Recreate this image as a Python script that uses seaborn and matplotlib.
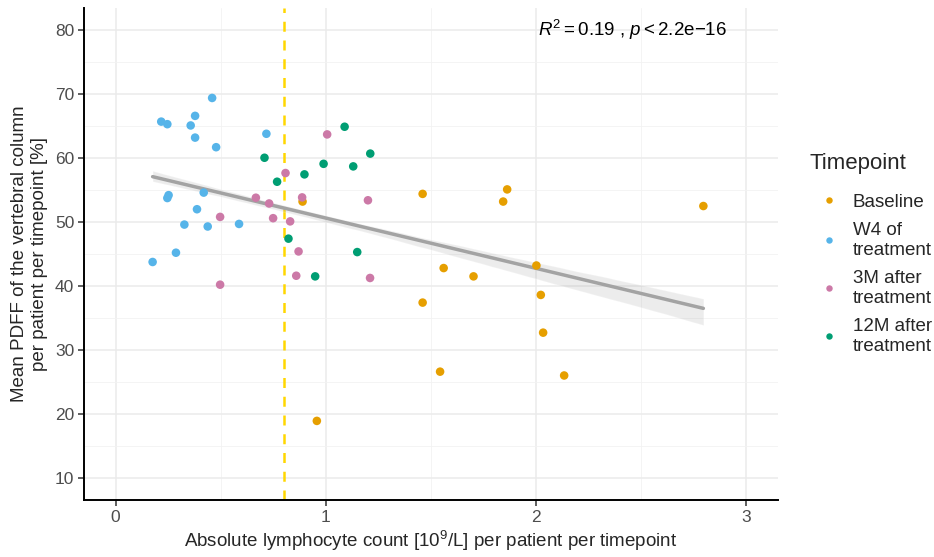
import pandas as pd
import numpy as np
import matplotlib
matplotlib.use("Agg")
import matplotlib.pyplot as plt
import seaborn as sns
from matplotlib.ticker import MultipleLocator

# values
baseline_x = [0.889, 1.460, 1.460, 1.862, 1.843, 1.560, 1.702, 2.001, 2.022, 2.033, 1.543, 2.133, 2.795, 0.957]
baseline_y = [53.2, 54.4, 37.4, 55.1, 53.2, 42.8, 41.5, 43.2, 38.6, 32.7, 26.6, 26.0, 52.5, 18.9]

w4_x = [0.459, 0.217, 0.246, 0.378, 0.357, 0.378, 0.478, 0.717, 0.252, 0.246, 0.419,
        0.387, 0.327, 0.438, 0.587, 0.287, 0.176]
w4_y = [69.4, 65.7, 65.3, 66.6, 65.1, 63.2, 61.7, 63.8, 54.2, 53.75, 54.6,
        52.0, 49.6, 49.3, 49.7, 45.2, 43.75]

m3_x = [1.006, 0.808, 0.667, 0.730, 0.887, 0.497, 0.749, 0.830, 0.870, 0.859, 0.497, 1.200, 1.210]
m3_y = [63.7, 57.66, 53.8, 52.9, 53.85, 50.8, 50.6, 50.1, 45.4, 41.6, 40.2, 53.4, 41.25]

m12_x = [0.708, 0.989, 0.898, 0.768, 0.822, 0.949, 1.089, 1.211, 1.130, 1.149]
m12_y = [60.05, 59.1, 57.45, 56.3, 47.4, 41.5, 64.9, 60.7, 58.7, 45.3]

groups = ["Baseline", "W4 of\ntreatment", "3M after\ntreatment", "12M after\ntreatment"]
colors = ["#E69F00", "#56B4E9", "#CC79A7", "#009E73"]
cutoff = 0.8
label_text = r"$R^2 = 0.19$ , $p < 2.2$e$-$16"

df = pd.concat([
    pd.DataFrame({"alc": baseline_x, "pdff": baseline_y, "Timepoint": groups[0]}),
    pd.DataFrame({"alc": w4_x, "pdff": w4_y, "Timepoint": groups[1]}),
    pd.DataFrame({"alc": m3_x, "pdff": m3_y, "Timepoint": groups[2]}),
    pd.DataFrame({"alc": m12_x, "pdff": m12_y, "Timepoint": groups[3]}),
], ignore_index=True)

sns.set_style("white")
plt.rcParams["font.family"] = ["Liberation Sans", "DejaVu Sans"]
plt.rcParams["mathtext.fontset"] = "custom"
plt.rcParams["mathtext.rm"] = "Liberation Sans"
plt.rcParams["mathtext.it"] = "Liberation Sans:italic"

fig = plt.figure(figsize=(9.34, 5.57), dpi=100)
ax = fig.add_axes([0.09, 0.102, 0.743, 0.884])

# grid
ax.xaxis.set_minor_locator(MultipleLocator(0.5))
ax.yaxis.set_minor_locator(MultipleLocator(5))
ax.grid(which="major", color="#EBEBEB", lw=1.1, zorder=0)
ax.grid(which="minor", color="#F2F2F2", lw=0.6, zorder=0)
ax.set_axisbelow(True)

ax.axvline(cutoff, color="#FFD700", lw=1.8, ls=(0, (4, 3.5)), zorder=1)

# narrow band as in the original (fit there used many more measurements)
sns.regplot(data=df, x="alc", y="pdff", scatter=False, ax=ax, color="#A3A3A3",
            ci=30, seed=1, line_kws={"lw": 2.5, "zorder": 2})
for coll in ax.collections:
    coll.set_alpha(0.2)

sns.scatterplot(data=df, x="alc", y="pdff", hue="Timepoint", hue_order=groups,
                palette=colors, s=38, linewidth=0, ax=ax, zorder=3)

ax.text(2.46, 80, label_text, ha="center", va="center", fontsize=13.5, color="black")

ax.set_xlim(-0.15, 3.15)
ax.set_ylim(6.5, 83.5)
ax.set_xticks([0, 1, 2, 3])
ax.set_yticks(range(10, 81, 10))
ax.tick_params(axis="both", which="major", length=4, width=1.1, color="#333333",
               labelsize=12.5, labelcolor="#4D4D4D", bottom=True, left=True, pad=3)
ax.tick_params(which="minor", length=0)

for side in ["top", "right"]:
    ax.spines[side].set_visible(False)
for side in ["left", "bottom"]:
    ax.spines[side].set_color("black")
    ax.spines[side].set_linewidth(1.4)

ax.set_xlabel(r"Absolute lymphocyte count [10$^9$/L] per patient per timepoint", fontsize=13.5, labelpad=3)
ax.set_ylabel("Mean PDFF of the vertebral column\nper patient per timepoint [%]", fontsize=13.5, labelpad=5)

handles, labels = ax.get_legend_handles_labels()
leg = ax.legend(handles, labels, title="Timepoint", loc="center left",
                bbox_to_anchor=(1.035, 0.5), frameon=False, fontsize=13.5,
                title_fontsize=16, markerscale=0.75, handletextpad=0.3,
                labelspacing=0.6, alignment="left", borderaxespad=0)
leg._legend_box.sep = 14

fig.savefig("out.png", dpi=100)
